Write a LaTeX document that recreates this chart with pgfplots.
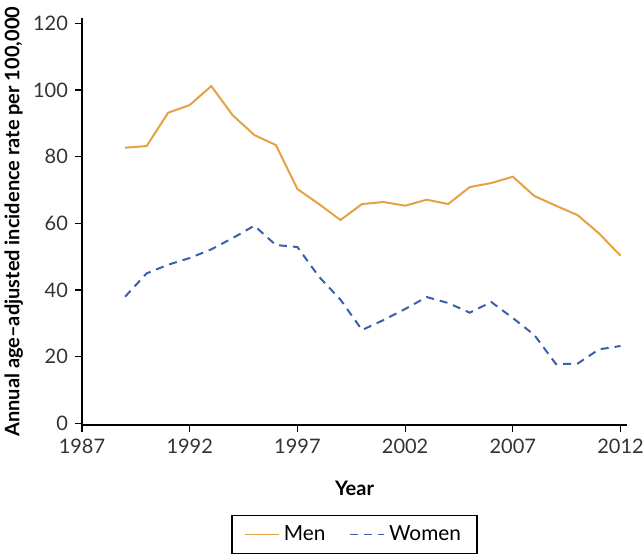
\documentclass[border=0pt]{standalone}
\usepackage{fontspec}
\setmainfont{Lato}
\usepackage{pgfplots}
\pgfplotsset{compat=1.18}
\definecolor{menc}{HTML}{E3A243}
\definecolor{womc}{HTML}{3A5FAD}
\begin{document}
\begin{tikzpicture}
\begin{axis}[
  scale only axis,
  width=272.5pt, height=203.3pt,
  xmin=1987, xmax=2012.3,
  ymin=-0.5, ymax=121.5,
  axis lines*=left,
  axis line style={line width=0.8pt, -},
  tick align=outside,
  major tick length=3.5pt,
  tick style={line width=0.6pt, black},
  xtick={1987,1992,1997,2002,2007,2012},
  ytick={0,20,40,60,80,100,120},
  xticklabel style={/pgf/number format/1000 sep={}},
  /pgf/number format/assume math mode=true,
  ticklabel style={font=\fontsize{10}{12}\selectfont, text=black!80},
  xlabel={\textbf{Year}},
  ylabel={\textbf{Annual age–adjusted incidence rate per 100,000}},
  xlabel style={at={(axis description cs:0.5,-0.157)}, anchor=center, font=\fontsize{10}{12}\selectfont},
  ylabel style={at={(axis description cs:-0.125,0.5)}, anchor=center, font=\fontsize{10}{12}\selectfont},
  legend columns=2,
  legend style={at={(axis description cs:0.5,-0.221)}, anchor=north, draw=black, line width=0.6pt,
    font=\fontsize{10.4}{12}\selectfont, inner xsep=6pt, inner ysep=3pt,
    /tikz/every even column/.append style={column sep=10pt}},
  legend image code/.code={\draw[#1, line width=0.8pt] (0cm,0cm) -- (0.6cm,0cm);},
  clip=false,
]
\addplot[menc, line width=1pt] coordinates {
(1989,82.7) (1990,83.2) (1991,93.2) (1992,95.5) (1993,101.2) (1994,92.4)
(1995,86.5) (1996,83.5) (1997,70.3) (1998,65.8) (1999,61.0) (2000,65.8)
(2001,66.4) (2002,65.3) (2003,67.1) (2004,65.8) (2005,70.9) (2006,72.1)
(2007,74.0) (2008,68.2) (2009,65.3) (2010,62.5) (2011,57.0) (2012,50.3)
};
\addlegendentry{Men}
\addplot[womc, line width=1pt, dash pattern=on 4pt off 3pt] coordinates {
(1989,38.0) (1990,45.0) (1991,47.6) (1992,49.6) (1993,52.2) (1994,55.6)
(1995,59.3) (1996,53.5) (1997,52.9) (1998,44.0) (1999,37.1) (2000,28.0)
(2001,31.0) (2002,34.3) (2003,37.9) (2004,36.1) (2005,33.2) (2006,36.4)
(2007,31.6) (2008,26.5) (2009,17.8) (2010,17.9) (2011,22.2) (2012,23.2)
};
\addlegendentry{Women}
\end{axis}
\pgfresetboundingbox
\path[use as bounding box] ([shift={(-41pt,-67pt)}]current axis.south west) rectangle ++(322pt,279.5pt);
\end{tikzpicture}
\end{document}
